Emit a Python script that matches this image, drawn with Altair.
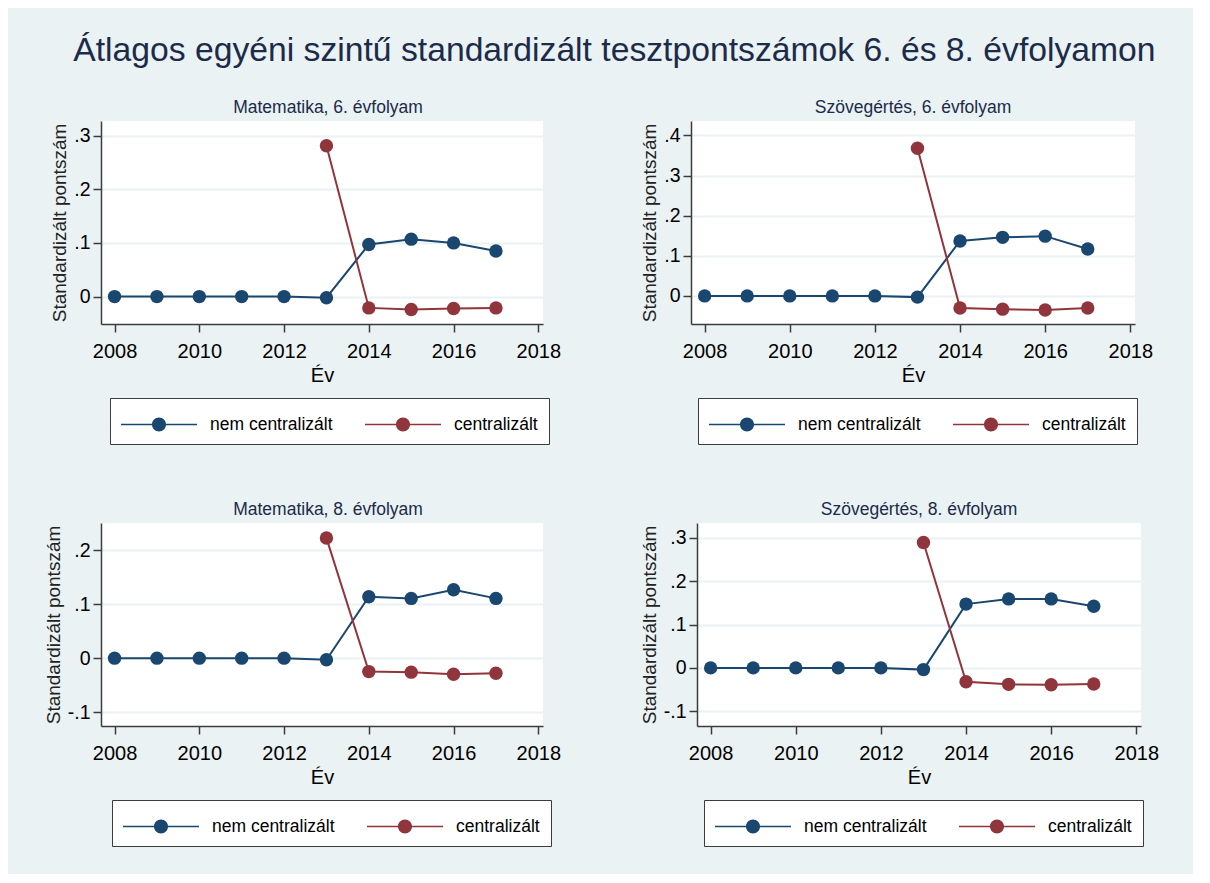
import altair as alt
import pandas as pd

# ---------------- data ----------------
years_nem = [2008, 2009, 2010, 2011, 2012, 2013, 2014, 2015, 2016, 2017]
years_cen = [2013, 2014, 2015, 2016, 2017]
series_names = ["nem centralizált", "centralizált"]
panel_titles = [
    "Matematika, 6. évfolyam",
    "Szövegértés, 6. évfolyam",
    "Matematika, 8. évfolyam",
    "Szövegértés, 8. évfolyam",
]

math6_nem = [0.0, 0.0, 0.0, 0.0, 0.0, -0.002, 0.097, 0.107, 0.100, 0.085]
math6_cen = [0.281, -0.021, -0.024, -0.022, -0.021]
read6_nem = [0.0, 0.0, 0.0, 0.0, 0.0, -0.003, 0.137, 0.146, 0.149, 0.117]
read6_cen = [0.368, -0.030, -0.033, -0.035, -0.030]
math8_nem = [0.0, 0.0, 0.0, 0.0, 0.0, -0.003, 0.114, 0.111, 0.127, 0.111]
math8_cen = [0.223, -0.025, -0.026, -0.030, -0.028]
read8_nem = [0.0, 0.0, 0.0, 0.0, 0.0, -0.004, 0.147, 0.159, 0.159, 0.142]
read8_cen = [0.289, -0.032, -0.038, -0.039, -0.037]

x_ticks = [2008, 2010, 2012, 2014, 2016, 2018]
y_ticks = [
    [0.0, 0.1, 0.2, 0.3],
    [0.0, 0.1, 0.2, 0.3, 0.4],
    [-0.1, 0.0, 0.1, 0.2],
    [-0.1, 0.0, 0.1, 0.2, 0.3],
]

# ---------------- style ----------------
FONT = "Liberation Sans"
BG = "#EAF2F3"
NAVY = "#1a476f"
MAROON = "#90353b"
series_colors = [NAVY, MAROON]
TITLE_COL = "#1c2b4a"
AXIS_COL = "#3c3c3c"

x_domain = [2007.68, 2018.11]
y_domains = [
    [-0.051, 0.327],
    [-0.070, 0.436],
    [-0.126, 0.251],
    [-0.134, 0.334],
]
widths = [442, 444, 442, 444]
legend_x = [9, 7, 11, 7]
subtitle_dx = [6, 0, 6, 0]
PLOT_H = 203

# legend symbol: line segment with a filled dot in the middle
# (path units: 1 unit = 15.5 px, since sqrt(symbolSize) = 31)
LEG_SYMBOL = (
    "M-2.452,-0.048H2.452V0.048H-2.452Z "
    "M0.452,0C0.452,0.2496 0.2496,0.452 0,0.452C-0.2496,0.452 -0.452,0.2496 -0.452,0"
    "C-0.452,-0.2496 -0.2496,-0.452 0,-0.452C0.2496,-0.452 0.452,-0.2496 0.452,0Z"
)

color_scale = alt.Scale(domain=series_names, range=series_colors)

ylabel_expr = (
    "datum.value == 0 ? '0' : (datum.value < 0 ? '-.' : '.') + "
    "format(abs(datum.value) * 10, '.0f')"
)


def panel(i, nem, cen):
    df = pd.concat(
        [
            pd.DataFrame({"Év": years_nem, "pont": nem, "sorozat": series_names[0]}),
            pd.DataFrame({"Év": years_cen, "pont": cen, "sorozat": series_names[1]}),
        ],
        ignore_index=True,
    )
    x = alt.X(
        "Év:Q",
        scale=alt.Scale(domain=x_domain, nice=False, zero=False),
        axis=alt.Axis(
            values=x_ticks,
            format="d",
            title="Év",
            grid=False,
            labelFontSize=20,
            labelFont=FONT,
            labelColor="black",
            labelPadding=9,
            labelFlush=False,
            labelOverlap=False,
            titleFontSize=20,
            titleFont=FONT,
            titleFontWeight="normal",
            titleColor="black",
            titlePadding=4.5,
            tickSize=8,
            tickWidth=1.5,
            tickColor=AXIS_COL,
            domainColor=AXIS_COL,
            domainWidth=1.5,
        ),
    )
    y = alt.Y(
        "pont:Q",
        scale=alt.Scale(domain=y_domains[i], nice=False, zero=False),
        axis=alt.Axis(
            values=y_ticks[i],
            labelExpr=ylabel_expr,
            title="Standardizált pontszám",
            grid=True,
            gridColor=BG,
            gridWidth=2,
            labelFontSize=19.5,
            labelFont=FONT,
            labelColor="black",
            labelPadding=3,
            labelOverlap=False,
            titleFontSize=19,
            titleFont=FONT,
            titleFontWeight="normal",
            titleColor="#222222",
            titlePadding=4,
            tickSize=8,
            tickWidth=1.5,
            tickColor=AXIS_COL,
            domainColor=AXIS_COL,
            domainWidth=1.5,
        ),
    )
    base = alt.Chart(df)
    line_layers = [
        base.transform_filter(alt.datum.sorozat == name)
        .mark_line(strokeWidth=2, color=col)
        .encode(x=x, y=y, order="Év:Q")
        for name, col in zip(series_names, series_colors)
    ]
    points = base.mark_circle(size=180, opacity=1).encode(
        x=x,
        y=y,
        color=alt.Color(
            "sorozat:N",
            scale=color_scale,
            legend=alt.Legend(
                title=None,
                orient="none",
                legendX=legend_x[i],
                legendY=277,
                direction="horizontal",
                symbolType=LEG_SYMBOL,
                symbolSize=961,
                symbolStrokeWidth=0,
                symbolOpacity=1,
                symbolOffset=22.5,
                labelOffset=35.5,
                labelFontSize=17.5,
                labelFont=FONT,
                labelColor="black",
                labelLimit=400,
                columnPadding=31,
                padding=11,
                strokeColor=AXIS_COL,
                fillColor="white",
            ),
        ),
    )
    return alt.layer(*line_layers, points).properties(
        width=widths[i],
        height=PLOT_H,
        title=alt.TitleParams(
            panel_titles[i],
            fontSize=17.5,
            font=FONT,
            fontWeight="normal",
            color=TITLE_COL,
            offset=5,
            dx=subtitle_dx[i],
        ),
    )


p1 = panel(0, math6_nem, math6_cen)
p2 = panel(1, read6_nem, read6_cen)
p3 = panel(2, math8_nem, math8_cen)
p4 = panel(3, read8_nem, read8_cen)

row1 = alt.hconcat(p1, p2, spacing=79).resolve_scale(color="independent")
row2 = alt.hconcat(p3, p4, spacing=79).resolve_scale(color="independent")

chart = (
    alt.vconcat(row1, row2, spacing=55)
    .resolve_scale(color="independent")
    .properties(
        title=alt.TitleParams(
            "Átlagos egyéni szintű standardizált tesztpontszámok 6. és 8. évfolyamon",
            fontSize=33.7,
            font=FONT,
            fontWeight="normal",
            color=TITLE_COL,
            anchor="middle",
            offset=31,
            dx=13,
        ),
        background=BG,
        padding={"left": 36, "top": 25, "right": 34, "bottom": 27},
    )
    .configure(font=FONT)
    .configure_view(fill="white", strokeWidth=0)
)

chart.save("out.html", embed_options={"renderer": "svg", "actions": False})
